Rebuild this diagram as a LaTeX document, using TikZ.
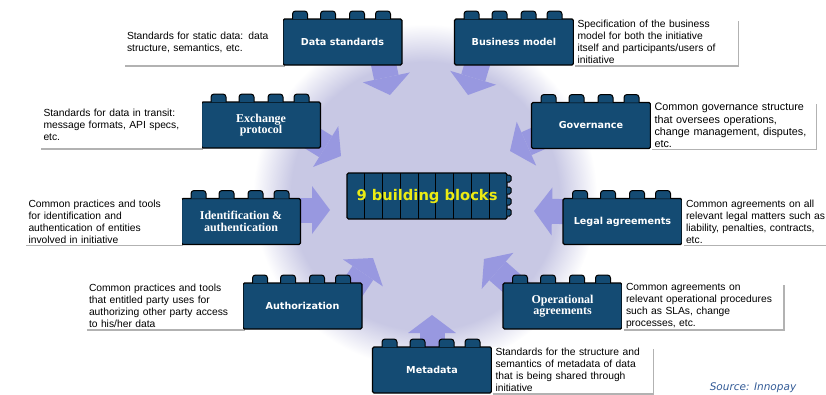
\documentclass[tikz,border=0pt]{standalone}
\usepackage{fontspec}
\setmainfont{Liberation Sans}
\newfontfamily\verdfont{DejaVu Sans}
\newfontfamily\serffont{Liberation Serif}
\usetikzlibrary{positioning,arrows.meta}
\pgfdeclarelayer{bg}
\pgfsetlayers{bg,main}

\definecolor{brickblue}{RGB}{20,75,115}
\definecolor{glowlav}{RGB}{200,200,228}
\definecolor{arrowlav}{RGB}{152,152,224}
\definecolor{ninegold}{RGB}{235,235,20}
\definecolor{srcblue}{RGB}{50,90,150}
\pgfdeclareradialshading{glow}{\pgfpoint{0bp}{0bp}}{color(0bp)=(glowlav); color(19.5bp)=(glowlav); color(25bp)=(white); color(50bp)=(white)}

\tikzset{
  brick/.style={draw=black, line width=1.2pt, fill=brickblue, rounded corners=1.5pt, minimum width=119pt, minimum height=46pt, inner sep=2pt, outer sep=0pt, text=white, align=center, font=\verdfont\bfseries\fontsize{9.6}{11.5}\selectfont},
  serifbrick/.style={brick, font=\serffont\bfseries\fontsize{12}{11.5}\selectfont},
  stud/.style={draw=black, line width=1pt, fill=brickblue, rounded corners=3pt},
  shadowbox/.style={fill=black!30},
  note/.style={fill=white, align=left, minimum height=46pt, inner xsep=4pt, inner ysep=0pt, outer sep=0pt, font=\fontsize{10.3}{12}\selectfont},
  push/.style={draw=arrowlav, line width=25pt, -{Triangle[width=48pt,length=18pt,line width=0pt]}},
}

\begin{document}
\begin{tikzpicture}[x=1pt,y=1pt,yscale=-1,xscale=1]
\useasboundingbox (0,0) rectangle (826,394);

%Shape: Bricks
\node[brick] (ds) at (342.5,42) {Data standards};
\node[brick] (bm) at (514,42) {Business model};
\node[serifbrick] (ep) at (261,125) {Exchange\\protocol};
\node[brick] (gov) at (591,125.5) {Governance};
\node[serifbrick] (ia) at (241,221.5) {Identification \&\\authentication};
\node[brick] (la) at (622.5,221.5) {Legal agreements};
\node[brick] (au) at (302.5,306) {Authorization};
\node[serifbrick] (oa) at (562.5,306) {Operational\\agreements};
\node[brick] (md) at (432,370) {Metadata};

%Shape: Studs
\foreach \b in {ds,bm,ep,gov,ia,la,au,oa,md}
  \foreach \dx in {9.5,37.5,66.5,92.5}
    \filldraw[stud] ([xshift=\dx pt]\b.north west) -- ++(0,-8) -- ++(15,0) -- ++(0,8);

%Shape: Centre brick
\node[brick, minimum width=160pt, text=ninegold, font=\verdfont\bfseries\fontsize{14.7}{16}\selectfont,
  path picture={\foreach \k in {1,...,8}
    \draw[black, line width=1pt] ([xshift=\k*17.78pt]path picture bounding box.north west) -- ([xshift=\k*17.78pt]path picture bounding box.south west);}]
  (nine) at (427,196) {9 building blocks};
\foreach \dy in {2,14,25,36}
  \filldraw[stud, rounded corners=1.5pt] ([shift={(0,\dy)}]nine.north east) -- ++(4,0) -- ++(0,7) -- ++(-4,0);

% Text Node
\node[note, text width=152pt, left=0pt of ds] (dsnote) {Standards for static data: data\\structure, semantics, etc.};
% Text Node
\node[note, text width=156pt, right=0pt of bm] (bmnote) {Specification of the business\\model for both the initiative\\itself and participants/users of\\initiative};
% Text Node
\node[note, text width=154pt, left=0pt of ep] (epnote) {Standards for data in transit:\\message formats, API specs,\\etc.};
% Text Node
\node[note, text width=157pt, font=\fontsize{10.8}{12.3}\selectfont, right=0pt of gov] (govnote) {Common governance structure\\that oversees operations,\\change management, disputes,\\etc.};
% Text Node
\node[note, text width=149pt, left=0pt of ia] (ianote) {Common practices and tools\\for identification and\\authentication of entities\\involved in initiative};
% Text Node
\node[note, text width=140pt, right=0pt of la] (lanote) {Common agreements on all\\relevant legal matters such as\\liability, penalties, contracts,\\etc.};
% Text Node
\node[note, text width=150pt, left=0pt of au] (aunote) {Common practices and tools\\that entitled party uses for\\authorizing other party access\\to his/her data};
% Text Node
\node[note, text width=153pt, right=0pt of oa] (oanote) {Common agreements on\\relevant operational procedures\\such as SLAs, change\\processes, etc.};
% Text Node
\node[note, text width=153pt, right=0pt of md] (mdnote) {Standards for the structure and\\semantics of metadata of data\\that is being shared through\\initiative};
% Text Node
\node[text=srcblue, font=\verdfont\itshape\fontsize{10.5}{12}\selectfont] (src) at (753,388) {Source: Innopay};

%Straight Lines: arrow tips
\coordinate (tds) at (390,95);
\coordinate (tbm) at (468,95);
\coordinate (tep) at (341,156);
\coordinate (tgov) at (510,151);
\coordinate (tia) at (330,210);
\coordinate (tla) at (534,211);
\coordinate (tau) at (373,258);
\coordinate (toa) at (484,259);
\coordinate (tmd) at (432,315);

\begin{pgfonlayer}{bg}
%Shape: Glow
\shade[shading=glow] (425,196) circle (172);
%Shape: Note shadows
\foreach \n in {dsnote,bmnote,epnote,govnote,ianote,lanote,aunote,oanote,mdnote}
  \fill[shadowbox] ([shift={(1.6,1.8)}]\n.north west) rectangle ([shift={(1.6,1.8)}]\n.south east);
%Straight Lines
\draw[push] ([shift={(38.5,10)}]ds.center) -- (tds);
\draw[push] ([shift={(-33,10)}]bm.center) -- (tbm);
\draw[push] ([shift={(46,10)}]ep.center) -- (tep);
\draw[push] ([shift={(-45,9.5)}]gov.center) -- (tgov);
\draw[push] ([shift={(39,-11.5)}]ia.center) -- (tia);
\draw[push] ([shift={(-37.5,-9.5)}]la.center) -- (tla);
\draw[push] ([shift={(45.5,-11)}]au.center) -- (tau);
\draw[push] ([shift={(-37.5,-11)}]oa.center) -- (toa);
\draw[push] ([shift={(0,-10)}]md.center) -- (tmd);
\end{pgfonlayer}

\end{tikzpicture}
\end{document}
